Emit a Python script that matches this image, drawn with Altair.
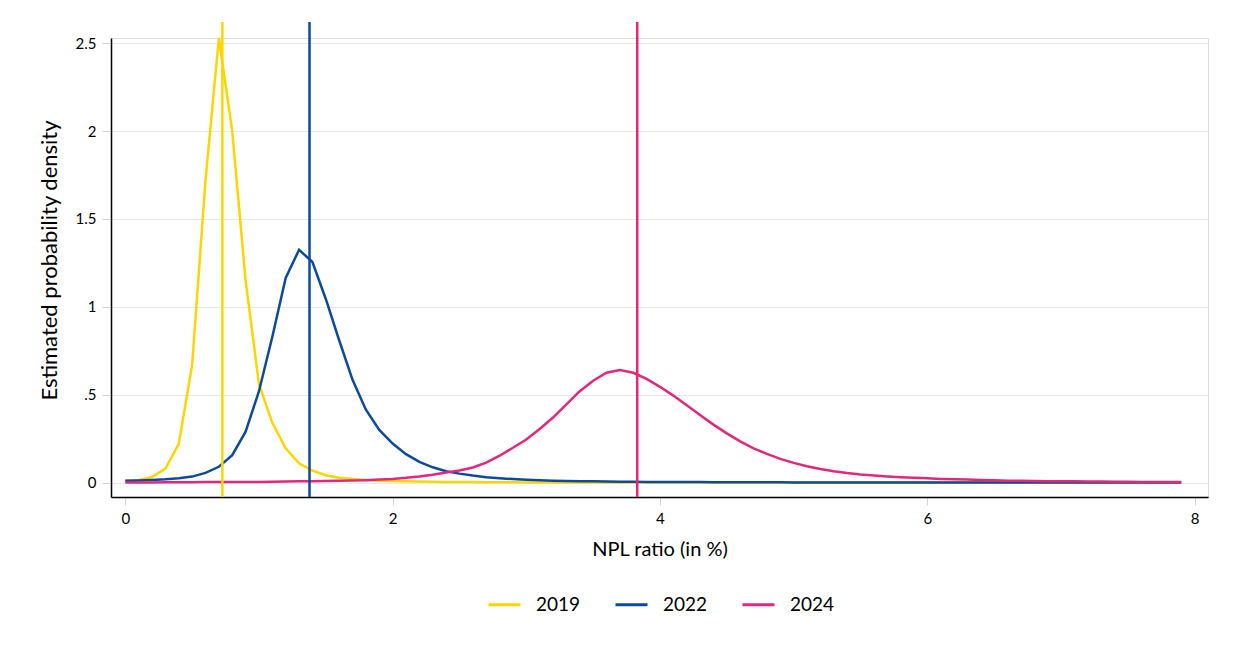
import altair as alt
import pandas as pd

# NPL ratio grid (in %)
npl = [0.0, 0.1, 0.2, 0.3, 0.4, 0.5, 0.6, 0.7, 0.8, 0.9,
       1.0, 1.1, 1.2, 1.3, 1.4, 1.5, 1.6, 1.7, 1.8, 1.9,
       2.0, 2.1, 2.2, 2.3, 2.4, 2.5, 2.6, 2.7, 2.8, 2.9,
       3.0, 3.1, 3.2, 3.3, 3.4, 3.5, 3.6, 3.7, 3.8, 3.9,
       4.0, 4.1, 4.2, 4.3, 4.4, 4.5, 4.6, 4.7, 4.8, 4.9,
       5.0, 5.1, 5.2, 5.3, 5.4, 5.5, 5.6, 5.7, 5.8, 5.9,
       6.0, 6.1, 6.2, 6.3, 6.4, 6.5, 6.6, 6.7, 6.8, 6.9,
       7.0, 7.1, 7.2, 7.3, 7.4, 7.5, 7.6, 7.7, 7.8, 7.9]

dens_2019 = [0.010, 0.015, 0.032, 0.080, 0.220, 0.670, 1.720, 2.530, 2.000, 1.150,
             0.560, 0.340, 0.195, 0.110, 0.068, 0.042, 0.028, 0.020, 0.015, 0.011,
             0.009, 0.007, 0.006, 0.005, 0.004, 0.003, 0.003, 0.002, 0.002, 0.002,
             0.001, 0.001, 0.001, 0.001, 0.001, 0.001, 0.001, 0.001, 0.001, 0.001,
             0.000, 0.000, 0.000, 0.000, 0.000, 0.000, 0.000, 0.000, 0.000, 0.000,
             0.000, 0.000, 0.000, 0.000, 0.000, 0.000, 0.000, 0.000, 0.000, 0.000,
             0.000, 0.000, 0.000, 0.000, 0.000, 0.000, 0.000, 0.000, 0.000, 0.000,
             0.000, 0.000, 0.000, 0.000, 0.000, 0.000, 0.000, 0.000, 0.000, 0.000]

dens_2022 = [0.010, 0.012, 0.015, 0.019, 0.025, 0.034, 0.055, 0.090, 0.156, 0.290,
             0.520, 0.830, 1.165, 1.325, 1.255, 1.045, 0.810, 0.585, 0.415, 0.300,
             0.222, 0.162, 0.118, 0.087, 0.065, 0.051, 0.040, 0.031, 0.025, 0.020,
             0.016, 0.013, 0.011, 0.009, 0.008, 0.007, 0.006, 0.005, 0.005, 0.004,
             0.004, 0.003, 0.003, 0.003, 0.002, 0.002, 0.002, 0.002, 0.002, 0.002,
             0.001, 0.001, 0.001, 0.001, 0.001, 0.001, 0.001, 0.001, 0.001, 0.001,
             0.001, 0.001, 0.001, 0.001, 0.001, 0.001, 0.001, 0.001, 0.001, 0.001,
             0.001, 0.001, 0.001, 0.001, 0.001, 0.001, 0.001, 0.001, 0.001, 0.001]

dens_2024 = [0.001, 0.001, 0.001, 0.002, 0.002, 0.002, 0.003, 0.003, 0.003, 0.004,
             0.004, 0.005, 0.006, 0.007, 0.008, 0.009, 0.011, 0.012, 0.014, 0.017,
             0.021, 0.027, 0.035, 0.045, 0.057, 0.069, 0.086, 0.114, 0.153, 0.198,
             0.245, 0.305, 0.370, 0.445, 0.520, 0.580, 0.625, 0.640, 0.625, 0.590,
             0.545, 0.495, 0.440, 0.385, 0.330, 0.280, 0.235, 0.195, 0.163, 0.135,
             0.112, 0.093, 0.077, 0.064, 0.054, 0.046, 0.040, 0.035, 0.031, 0.027,
             0.024, 0.021, 0.019, 0.017, 0.015, 0.013, 0.011, 0.010, 0.009, 0.008,
             0.007, 0.007, 0.006, 0.006, 0.005, 0.005, 0.004, 0.004, 0.004, 0.003]

years = ["2019", "2022", "2024"]
mean_npl = [0.726, 1.378, 3.830]
colors = ["#FFD500", "#0B4A9E", "#E2287E"]

x_ticks = [0, 2, 4, 6, 8]
y_ticks = [0, 0.5, 1, 1.5, 2, 2.5]

FONT = "Lato"

rows = []
for yr, series in zip(years, [dens_2019, dens_2022, dens_2024]):
    for xv, dv in zip(npl, series):
        rows.append({"npl": xv, "density": dv, "year": yr})
df = pd.DataFrame(rows)
df_rules = pd.DataFrame({"year": years, "npl": mean_npl})

xscale = alt.Scale(domain=[-0.107, 8.1], nice=False, zero=False)
yscale = alt.Scale(domain=[-0.082, 2.53], nice=False, zero=False)
color = alt.Color(
    "year:N",
    scale=alt.Scale(domain=years, range=colors),
    legend=alt.Legend(
        title=None, orient="none", direction="horizontal",
        legendX=376, legendY=549,
        symbolType="stroke", symbolSize=1024, symbolStrokeWidth=3,
        labelFontSize=19, labelFont=FONT, labelColor="#000000",
        labelOffset=14, columnPadding=28,
    ),
)

lines = alt.Chart(df).mark_line(strokeWidth=2.5, clip=False).encode(
    x=alt.X(
        "npl:Q", scale=xscale,
        axis=alt.Axis(
            title="NPL ratio (in %)", values=x_ticks, format="~g",
            grid=False, domainColor="#000000", domainWidth=1.5,
            tickColor="#d4d4d4", tickSize=8, tickWidth=1,
            labelFontSize=15, labelFont=FONT, labelColor="#000000", labelPadding=6,
            titleFontSize=20, titleFont=FONT, titleFontWeight="normal",
            titleColor="#000000", titlePadding=13,
        ),
    ),
    y=alt.Y(
        "density:Q", scale=yscale,
        axis=alt.Axis(
            title="Estimated probability density", values=y_ticks,
            labelExpr="datum.value == 0.5 ? '.5' : format(datum.value, '~g')",
            grid=True, gridColor="#eaeaea", gridWidth=1,
            domainColor="#000000", domainWidth=1.5,
            tickColor="#d4d4d4", tickSize=9, tickWidth=1,
            labelFontSize=15, labelFont=FONT, labelColor="#000000", labelPadding=6,
            titleFontSize=22, titleFont=FONT, titleFontWeight="normal",
            titleColor="#000000", titlePadding=14, titleY=222,
        ),
    ),
    color=color,
    order=alt.Order("npl:Q"),
)

rules = alt.Chart(df_rules).mark_rule(strokeWidth=2.5).encode(
    x=alt.X("npl:Q", scale=xscale),
    y=alt.value(-16),
    y2=alt.value(459),
    color=alt.Color("year:N", scale=alt.Scale(domain=years, range=colors), legend=None),
)

chart = alt.layer(lines, rules).properties(
    width=1097, height=459,
    autosize=alt.AutoSizeParams(type="none"),
    padding={"left": 103, "top": 30, "right": 17, "bottom": 150},
).configure_view(stroke=None).configure(font=FONT)

chart.save("out.html", embed_options={"renderer": "svg", "actions": False})
